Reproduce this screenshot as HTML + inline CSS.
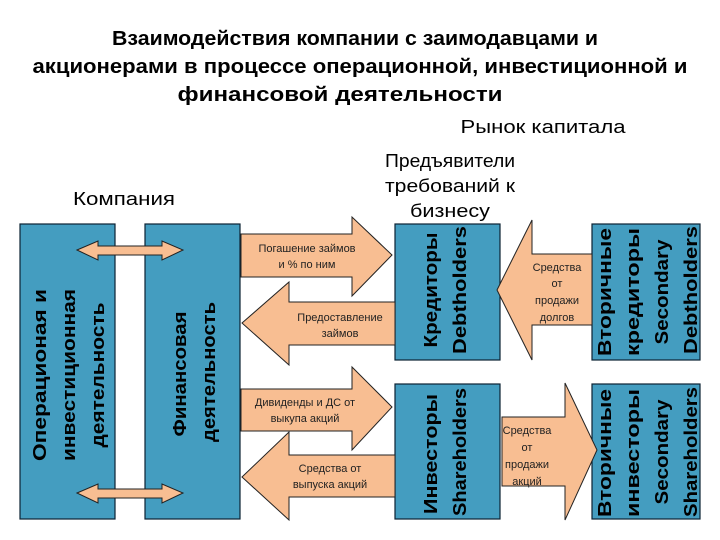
<!DOCTYPE html>
<html><head><meta charset="utf-8"><style>html,body{margin:0;padding:0;background:#fff}svg{display:block}</style></head>
<body>
<svg width="720" height="540" viewBox="0 0 720 540" xmlns="http://www.w3.org/2000/svg" font-family="Liberation Sans, DejaVu Sans, sans-serif">
<g font-weight="bold" font-size="20" fill="#000" text-anchor="middle">
<text x="355" y="45" textLength="486" lengthAdjust="spacingAndGlyphs">Взаимодействия компании с заимодавцами и</text>
<text x="360" y="73" textLength="655" lengthAdjust="spacingAndGlyphs">акционерами в процессе операционной, инвестиционной и</text>
<text x="340" y="101" textLength="325" lengthAdjust="spacingAndGlyphs">финансовой деятельности</text>
</g>
<g font-size="18" fill="#000" text-anchor="middle">
<text x="543" y="133" textLength="165" lengthAdjust="spacingAndGlyphs">Рынок капитала</text>
<text x="450" y="167" textLength="130" lengthAdjust="spacingAndGlyphs">Предъявители</text>
<text x="450" y="192" textLength="130" lengthAdjust="spacingAndGlyphs">требований к</text>
<text x="450" y="217" textLength="80" lengthAdjust="spacingAndGlyphs">бизнесу</text>
<text x="124" y="205" textLength="102" lengthAdjust="spacingAndGlyphs">Компания</text>
</g>
<g fill="#449DC0" stroke="#0b2233" stroke-width="1.2">
<rect x="20" y="224" width="95" height="295"/>
<rect x="145" y="224" width="95" height="295"/>
<rect x="395" y="224" width="105" height="136"/>
<rect x="395" y="384" width="105" height="135"/>
<rect x="592" y="224" width="108" height="136"/>
<rect x="592" y="384" width="108" height="135"/>
</g>
<g fill="#F8BE92" stroke="#222" stroke-width="1">
<polygon points="241,234 352,234 352,217 392,255 352,296 352,277 241,277"/>
<polygon points="395,302 289,302 289,282 242,323 289,365 289,345 395,345"/>
<polygon points="241,389 352,389 352,367 392,407 352,450 352,431 241,431"/>
<polygon points="395,455 289,455 289,432 242,477 289,520 289,497 395,497"/>
<polygon points="592,254 532,254 532,220 497,290 532,360 532,325 592,325"/>
<polygon points="502,417 565,417 565,383 597,450 565,520 565,486 502,486"/>
<polygon points="77,250 98,241 98,246 162,246 162,241 183,250 162,260 162,255 98,255 98,260"/>
<polygon points="77,493 98,484 98,489 162,489 162,484 183,493 162,503 162,498 98,498 98,503"/>
</g>
<g font-size="11" fill="#222" text-anchor="middle">
<text x="307" y="252">Погашение займов</text>
<text x="307" y="268">и % по ним</text>
<text x="340" y="321">Предоставление</text>
<text x="340" y="337">займов</text>
<text x="305" y="406">Дивиденды и ДС от</text>
<text x="305" y="422">выкупа акций</text>
<text x="330" y="472">Средства от</text>
<text x="330" y="488">выпуска акций</text>
<text x="557" y="271">Средства</text>
<text x="557" y="287">от</text>
<text x="557" y="304">продажи</text>
<text x="557" y="321">долгов</text>
<text x="527" y="434">Средства</text>
<text x="527" y="451">от</text>
<text x="527" y="468">продажи</text>
<text x="527" y="485">акций</text>
</g>
<g font-weight="bold" font-size="18" fill="#000" text-anchor="middle">
<text transform="translate(46,375) rotate(-90)" textLength="172" lengthAdjust="spacingAndGlyphs">Операционая и</text>
<text transform="translate(75,375) rotate(-90)" textLength="172" lengthAdjust="spacingAndGlyphs">инвестиционная</text>
<text transform="translate(104,375) rotate(-90)" textLength="145" lengthAdjust="spacingAndGlyphs">деятельность</text>
<text transform="translate(186,374) rotate(-90)" textLength="125" lengthAdjust="spacingAndGlyphs">Финансовая</text>
<text transform="translate(215,372) rotate(-90)" textLength="140" lengthAdjust="spacingAndGlyphs">деятельность</text>
<text transform="translate(437,290) rotate(-90)" textLength="115" lengthAdjust="spacingAndGlyphs">Кредиторы</text>
<text transform="translate(466,290) rotate(-90)" textLength="128" lengthAdjust="spacingAndGlyphs">Debtholders</text>
<text transform="translate(437,454) rotate(-90)" textLength="120" lengthAdjust="spacingAndGlyphs">Инвесторы</text>
<text transform="translate(466,452) rotate(-90)" textLength="128" lengthAdjust="spacingAndGlyphs">Shareholders</text>
<text transform="translate(611,292) rotate(-90)" textLength="128" lengthAdjust="spacingAndGlyphs">Вторичные</text>
<text transform="translate(639,292) rotate(-90)" textLength="128" lengthAdjust="spacingAndGlyphs">кредиторы</text>
<text transform="translate(668,292) rotate(-90)" textLength="105" lengthAdjust="spacingAndGlyphs">Secondary</text>
<text transform="translate(697,290) rotate(-90)" textLength="128" lengthAdjust="spacingAndGlyphs">Debtholders</text>
<text transform="translate(611,453) rotate(-90)" textLength="128" lengthAdjust="spacingAndGlyphs">Вторичные</text>
<text transform="translate(639,453) rotate(-90)" textLength="128" lengthAdjust="spacingAndGlyphs">инвесторы</text>
<text transform="translate(668,452) rotate(-90)" textLength="105" lengthAdjust="spacingAndGlyphs">Secondary</text>
<text transform="translate(697,452) rotate(-90)" textLength="130" lengthAdjust="spacingAndGlyphs">Shareholders</text>
</g>
</svg>
</body></html>
